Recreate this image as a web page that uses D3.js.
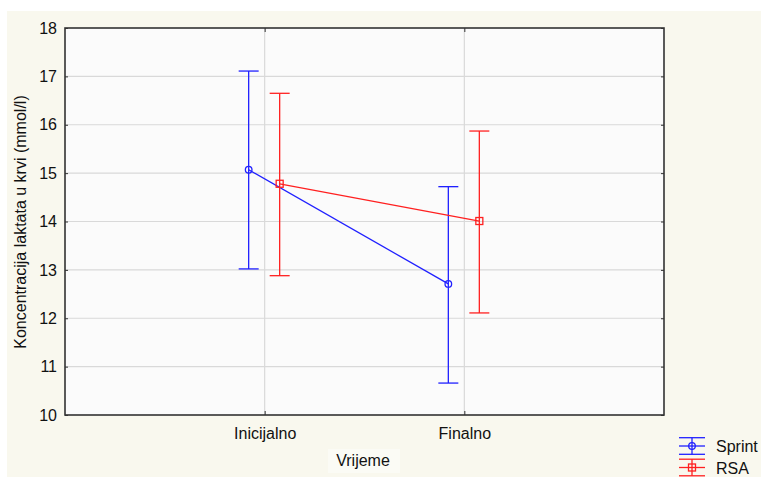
<!DOCTYPE html>
<html><head><meta charset="utf-8">
<script src="https://cdn.jsdelivr.net/npm/d3@7"></script>
<style>body{margin:0;background:#fff;} text{font-family:"Liberation Sans",Arial,sans-serif;fill:#111;}</style>
</head><body>
<svg id="c" width="761" height="477"></svg>
<script>
const categories = ["Inicijalno", "Finalno"];
const seriesNames = ["Sprint", "RSA"];
const seriesColors = ["#2020ff", "#ff2020"];
const sprintMean = [15.07, 12.71];
const sprintLow = [13.02, 10.66];
const sprintHigh = [17.11, 14.72];
const rsaMean = [14.78, 14.01];
const rsaLow = [12.88, 12.11];
const rsaHigh = [16.65, 15.87];
const yTicks = [10, 11, 12, 13, 14, 15, 16, 17, 18];
const yTitle = "Koncentracija laktata u krvi (mmol/l)";
const xTitle = "Vrijeme";

const series = [
  {name: seriesNames[0], color: seriesColors[0], mean: sprintMean, low: sprintLow, high: sprintHigh, offset: -16, shape: "circle"},
  {name: seriesNames[1], color: seriesColors[1], mean: rsaMean, low: rsaLow, high: rsaHigh, offset: 15, shape: "square"}
];

const svg = d3.select("#c");
svg.append("rect").attr("x", 7).attr("y", 11).attr("width", 754).attr("height", 466).attr("fill", "#f9f8ee");

const L = 65, R = 664, T = 28, B = 415;
const x = d3.scaleLinear().domain([0, 3]).range([L, R]);
const y = d3.scaleLinear().domain([10, 18]).range([B, T]);

svg.append("rect").attr("x", L).attr("y", T).attr("width", R - L).attr("height", B - T).attr("fill", "#fbfbfb");

// grid
svg.append("g").selectAll("line").data(yTicks.slice(1, -1)).join("line")
  .attr("x1", L).attr("x2", R).attr("y1", d => y(d)).attr("y2", d => y(d))
  .attr("stroke", "#d9d9d9").attr("stroke-width", 1.2);
svg.append("g").selectAll("line").data(categories).join("line")
  .attr("x1", (d, i) => x(i + 1)).attr("x2", (d, i) => x(i + 1)).attr("y1", T).attr("y2", B)
  .attr("stroke", "#d9d9d9").attr("stroke-width", 1.2);

// axes
const yAxisL = d3.axisLeft(y).tickValues(yTicks).tickSizeInner(-3).tickSizeOuter(0).tickPadding(8);
const gL = svg.append("g").attr("transform", `translate(${L},0)`).call(yAxisL);
gL.select(".domain").remove();
gL.selectAll(".tick line").attr("stroke", "#333");
gL.selectAll("text").attr("font-size", 16).attr("fill", "#111");

const yAxisR = d3.axisRight(y).tickValues(yTicks).tickSizeInner(-3).tickSizeOuter(0).tickFormat("");
const gR = svg.append("g").attr("transform", `translate(${R},0)`).call(yAxisR);
gR.select(".domain").remove();
gR.selectAll(".tick line").attr("stroke", "#333");

const xAxisB = d3.axisBottom(x).tickValues([1, 2]).tickFormat((d) => categories[d - 1]).tickSizeInner(-4).tickSizeOuter(0).tickPadding(13);
const gB = svg.append("g").attr("transform", `translate(0,${B})`).call(xAxisB);
gB.select(".domain").remove();
gB.selectAll(".tick line").attr("stroke", "#333");
gB.selectAll("text").attr("font-size", 16).attr("fill", "#111");

const xAxisT = d3.axisTop(x).tickValues([1, 2]).tickFormat("").tickSizeInner(-4).tickSizeOuter(0);
const gT = svg.append("g").attr("transform", `translate(0,${T})`).call(xAxisT);
gT.select(".domain").remove();
gT.selectAll(".tick line").attr("stroke", "#333");

svg.append("rect").attr("x", L).attr("y", T).attr("width", R - L).attr("height", B - T)
  .attr("fill", "none").attr("stroke", "#333").attr("stroke-width", 1.6);

// series
series.forEach(s => {
  const g = svg.append("g");
  const px = i => x(i + 1) + s.offset;
  g.append("path").datum(s.mean)
    .attr("d", d3.line().x((d, i) => px(i)).y(d => y(d)))
    .attr("fill", "none").attr("stroke", s.color).attr("stroke-width", 1.3);
  s.mean.forEach((m, i) => {
    g.append("line").attr("x1", px(i)).attr("x2", px(i)).attr("y1", y(s.low[i])).attr("y2", y(s.high[i]))
      .attr("stroke", s.color).attr("stroke-width", 1.3);
    [s.low[i], s.high[i]].forEach(v => {
      g.append("line").attr("x1", px(i) - 10).attr("x2", px(i) + 10).attr("y1", y(v)).attr("y2", y(v))
        .attr("stroke", s.color).attr("stroke-width", 1.3);
    });
    if (s.shape === "circle") {
      g.append("circle").attr("cx", px(i)).attr("cy", y(m)).attr("r", 3.3)
        .attr("fill", "none").attr("stroke", s.color).attr("stroke-width", 1.3);
    } else {
      g.append("rect").attr("x", px(i) - 3.5).attr("y", y(m) - 3.5).attr("width", 7).attr("height", 7)
        .attr("fill", "none").attr("stroke", s.color).attr("stroke-width", 1.3);
    }
  });
});

// titles
svg.append("text").attr("transform", "translate(26,222) rotate(-90)").attr("text-anchor", "middle")
  .attr("font-size", 16).text(yTitle);
svg.append("rect").attr("x", 328).attr("y", 449).attr("width", 72).attr("height", 24).attr("fill", "#fbfbf5");
svg.append("text").attr("x", 363).attr("y", 466).attr("text-anchor", "middle").attr("font-size", 16).text(xTitle);

// legend
series.forEach((s, k) => {
  const cy = 446 + k * 21.5, cx = 692;
  const g = svg.append("g");
  [-8.3, 0, 8.3].forEach(dy => {
    g.append("line").attr("x1", cx - 13).attr("x2", cx + 13).attr("y1", cy + dy).attr("y2", cy + dy)
      .attr("stroke", s.color).attr("stroke-width", 1.3);
  });
  g.append("line").attr("x1", cx).attr("x2", cx).attr("y1", cy - 8.3).attr("y2", cy + 8.3)
    .attr("stroke", s.color).attr("stroke-width", 1.3);
  if (s.shape === "circle") {
    g.append("circle").attr("cx", cx).attr("cy", cy).attr("r", 3.3).attr("fill", "none").attr("stroke", s.color).attr("stroke-width", 1.3);
  } else {
    g.append("rect").attr("x", cx - 3.5).attr("y", cy - 3.5).attr("width", 7).attr("height", 7).attr("fill", "none").attr("stroke", s.color).attr("stroke-width", 1.3);
  }
  svg.append("text").attr("x", 716).attr("y", cy + 6).attr("font-size", 16).text(s.name);
});
</script>
</body></html>
